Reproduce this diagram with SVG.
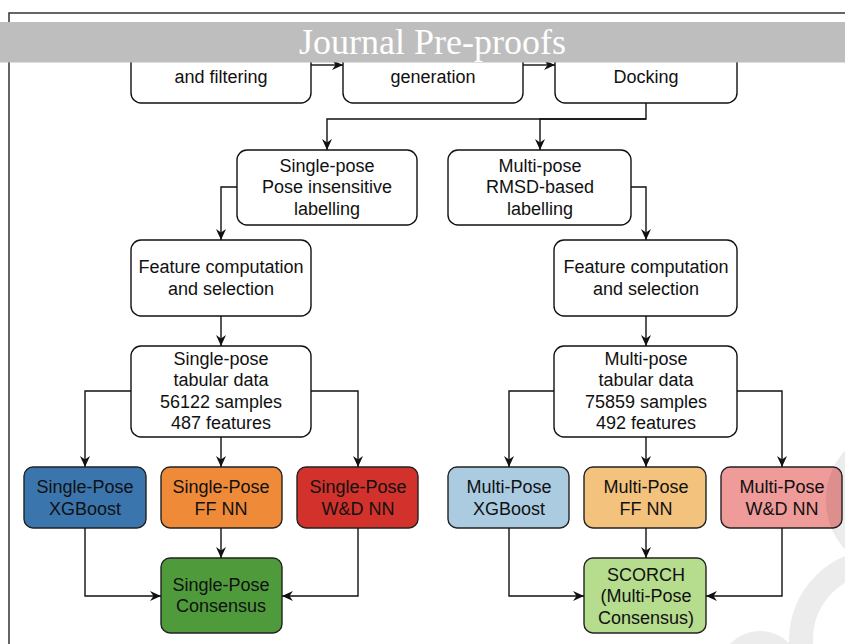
<svg xmlns="http://www.w3.org/2000/svg" width="845" height="644" viewBox="0 0 845 644">
<defs>
<style>
.box{fill:#fff;stroke:#111;stroke-width:1.4}
.cbox{stroke:#222;stroke-width:1.4}
.t{font-family:"Liberation Sans",Arial,sans-serif;font-size:18px;fill:#111;text-anchor:middle}
.edge{fill:none;stroke:#111;stroke-width:1.4}
.wm{fill:none;stroke:#000;stroke-opacity:0.075}
</style>
<marker id="arr" viewBox="0 0 11 11" refX="11" refY="5.5" markerWidth="11" markerHeight="11" markerUnits="userSpaceOnUse" orient="auto">
<path d="M0,0.5 L11,5.5 L0,10.5 L3.5,5.5 Z" fill="#111"/>
</marker>
</defs>
<rect x="0" y="0" width="845" height="644" fill="#fff"/>
<path d="M9,644 V13 H845" fill="none" stroke="#333" stroke-width="1.5"/>

<g id="n_data">
<rect class="box" x="131" y="27" width="180" height="76" rx="10"/>
<text class="t" x="221" y="82.5">and filtering</text>
</g>
<g id="n_decoy">
<rect class="box" x="343" y="27" width="180" height="76" rx="10"/>
<text class="t" x="433" y="82.5">generation</text>
</g>
<g id="n_docking">
<rect class="box" x="555" y="27" width="182" height="76" rx="10"/>
<text class="t" x="646" y="82.5">Docking</text>
</g>
<g id="n_single_label">
<rect class="box" x="237" y="150" width="180" height="75" rx="10"/>
<text class="t" x="327" y="171.5">Single-pose</text>
<text class="t" x="327" y="193">Pose insensitive</text>
<text class="t" x="327" y="214.5">labelling</text>
</g>
<g id="n_multi_label">
<rect class="box" x="448" y="150" width="183" height="75" rx="10"/>
<text class="t" x="540" y="171.5">Multi-pose</text>
<text class="t" x="540" y="193">RMSD-based</text>
<text class="t" x="540" y="214.5">labelling</text>
</g>
<g id="n_feat_l">
<rect class="box" x="131" y="240" width="180" height="76" rx="10"/>
<text class="t" x="221" y="273">Feature computation</text>
<text class="t" x="221" y="294.5">and selection</text>
</g>
<g id="n_feat_r">
<rect class="box" x="554" y="240" width="183" height="76" rx="10"/>
<text class="t" x="646" y="273">Feature computation</text>
<text class="t" x="646" y="294.5">and selection</text>
</g>
<g id="n_tab_l">
<rect class="box" x="131" y="346" width="180" height="91" rx="10"/>
<text class="t" x="221" y="364.5">Single-pose</text>
<text class="t" x="221" y="386">tabular data</text>
<text class="t" x="221" y="407.5">56122 samples</text>
<text class="t" x="221" y="429">487 features</text>
</g>
<g id="n_tab_r">
<rect class="box" x="554" y="346" width="183" height="91" rx="10"/>
<text class="t" x="646" y="364.5">Multi-pose</text>
<text class="t" x="646" y="386">tabular data</text>
<text class="t" x="646" y="407.5">75859 samples</text>
<text class="t" x="646" y="429">492 features</text>
</g>
<g id="n_sp_xgb">
<rect class="cbox" x="24" y="467" width="122" height="61" rx="9" fill="#3a75ae"/>
<text class="t" x="85" y="493">Single-Pose</text>
<text class="t" x="85" y="514.5">XGBoost</text>
</g>
<g id="n_sp_ff">
<rect class="cbox" x="161" y="467" width="121" height="61" rx="9" fill="#ee8a38"/>
<text class="t" x="221" y="493">Single-Pose</text>
<text class="t" x="221" y="514.5">FF NN</text>
</g>
<g id="n_sp_wd">
<rect class="cbox" x="297" y="467" width="121" height="61" rx="9" fill="#d2322b"/>
<text class="t" x="358" y="493">Single-Pose</text>
<text class="t" x="358" y="514.5">W&amp;D NN</text>
</g>
<g id="n_sp_cons">
<rect class="cbox" x="161" y="558" width="121" height="75" rx="9" fill="#4f9b3c"/>
<text class="t" x="221" y="590.5">Single-Pose</text>
<text class="t" x="221" y="612">Consensus</text>
</g>
<g id="n_mp_xgb">
<rect class="cbox" x="448" y="467" width="121" height="61" rx="9" fill="#abcbe1"/>
<text class="t" x="509" y="493">Multi-Pose</text>
<text class="t" x="509" y="514.5">XGBoost</text>
</g>
<g id="n_mp_ff">
<rect class="cbox" x="584" y="467" width="122" height="61" rx="9" fill="#f3c27c"/>
<text class="t" x="646" y="493">Multi-Pose</text>
<text class="t" x="646" y="514.5">FF NN</text>
</g>
<g id="n_mp_wd">
<rect class="cbox" x="721" y="467" width="121" height="61" rx="9" fill="#ee9b99"/>
<text class="t" x="782" y="493">Multi-Pose</text>
<text class="t" x="782" y="514.5">W&amp;D NN</text>
</g>
<g id="n_scorch">
<rect class="cbox" x="584" y="558" width="122" height="75" rx="9" fill="#b6dc8e"/>
<text class="t" x="646" y="580.5">SCORCH</text>
<text class="t" x="646" y="602">(Multi-Pose</text>
<text class="t" x="646" y="623.5">Consensus)</text>
</g>

<g id="connectors">
<path class="edge" d="M311,65 H343" marker-end="url(#arr)"/>
<path class="edge" d="M523,65 H555" marker-end="url(#arr)"/>
<path class="edge" d="M646,103 V119 H327 V150" marker-end="url(#arr)"/>
<path class="edge" d="M646,119 H540 V150" marker-end="url(#arr)"/>
<path class="edge" d="M237,187 H221 V240" marker-end="url(#arr)"/>
<path class="edge" d="M631,187 H646 V240" marker-end="url(#arr)"/>
<path class="edge" d="M221,316 V346" marker-end="url(#arr)"/>
<path class="edge" d="M646,316 V346" marker-end="url(#arr)"/>
<path class="edge" d="M131,391 H85 V467" marker-end="url(#arr)"/>
<path class="edge" d="M221,437 V467" marker-end="url(#arr)"/>
<path class="edge" d="M311,391 H358 V467" marker-end="url(#arr)"/>
<path class="edge" d="M554,391 H509 V467" marker-end="url(#arr)"/>
<path class="edge" d="M646,437 V467" marker-end="url(#arr)"/>
<path class="edge" d="M737,391 H782 V467" marker-end="url(#arr)"/>
<path class="edge" d="M85,528 V596 H161" marker-end="url(#arr)"/>
<path class="edge" d="M221,528 V558" marker-end="url(#arr)"/>
<path class="edge" d="M358,528 V596 H282" marker-end="url(#arr)"/>
<path class="edge" d="M509,528 V596 H584" marker-end="url(#arr)"/>
<path class="edge" d="M646,528 V558" marker-end="url(#arr)"/>
<path class="edge" d="M782,528 V596 H706" marker-end="url(#arr)"/>
</g>

<g id="watermark">
<circle class="wm" cx="880" cy="640" r="79" stroke-width="24"/>
<circle class="wm" cx="900" cy="500" r="63" stroke-width="22"/>
<circle class="wm" cx="760" cy="672" r="32" stroke-width="18"/>
</g>

<g id="banner">
<rect x="0" y="22" width="845" height="40.5" fill="#bebebe"/>
<text x="432.5" y="53.5" font-family="'Liberation Serif','Times New Roman',serif" font-size="36" fill="#fff" text-anchor="middle">Journal Pre-proofs</text>
</g>
</svg>
